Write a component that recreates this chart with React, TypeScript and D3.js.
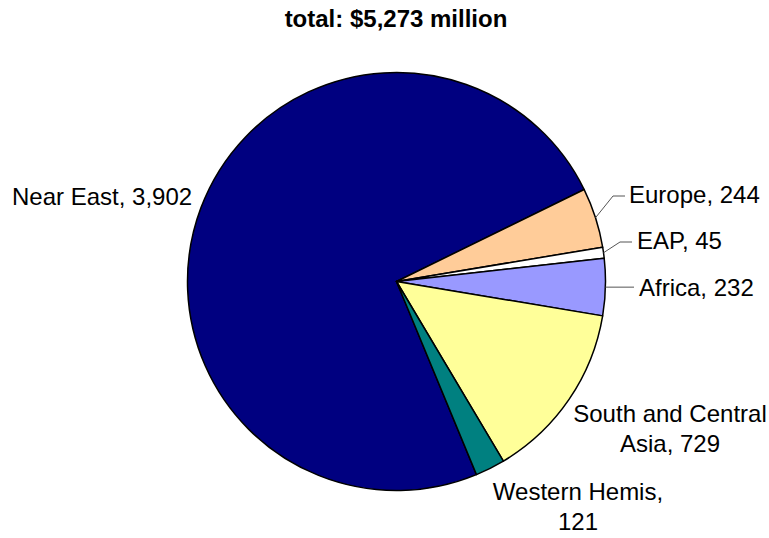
import React from "react";
import * as d3 from "d3";

const regions = ["Near East", "Europe", "EAP", "Africa", "South and Central Asia", "Western Hemis"];
const values = [3902, 244, 45, 232, 729, 121];
const colors = ["#000080", "#FFCC99", "#FFFFFF", "#9999FF", "#FFFF99", "#008080"];
const labelLines = [
  ["Near East, 3,902"],
  ["Europe, 244"],
  ["EAP, 45"],
  ["Africa, 232"],
  ["South and Central", "Asia, 729"],
  ["Western Hemis,", "121"],
];
const titleText = "total: $5,273 million";

const W = 769;
const H = 538;
const cx = 396.5;
const cy = 281.5;
const R = 209;
const START_DEG = 157.5;

// label layout: anchor point x,y (first baseline), text-anchor, leader elbow
const labelLayout = [
  { x: 12, y: 205, anchor: "start", leader: null },
  { x: 629, y: 203, anchor: "start", leader: { ex: 613, ey: 196, hx: 625 } },
  { x: 637, y: 249, anchor: "start", leader: { ex: 620, ey: 242, hx: 632 } },
  { x: 639, y: 296, anchor: "start", leader: { ex: 620, ey: 288, hx: 634, flat: true } },
  { x: 670, y: 422, anchor: "middle", leader: null },
  { x: 578, y: 500, anchor: "middle", leader: null },
];

export default function App() {
  const data = regions.map((r, i) => ({ region: r, value: values[i], color: colors[i] }));
  const start = (START_DEG * Math.PI) / 180;
  const pie = d3
    .pie<any>()
    .value((d) => d.value)
    .sort(null)
    .startAngle(start)
    .endAngle(start + 2 * Math.PI);
  const arcs = pie(data);
  const arc = d3.arc<any>().innerRadius(0).outerRadius(R);
  const font = "'Liberation Sans', Arial, sans-serif";

  return (
    <svg width={W} height={H} style={{ display: "block", position: "absolute", left: 0, top: 0 }}>
      <rect width={W} height={H} fill="#fff" />
      <text x={396} y={27} textAnchor="middle" fontFamily={font} fontWeight="bold" fontSize={24} fill="#000">
        {titleText}
      </text>
      <g transform={`translate(${cx},${cy})`}>
        {arcs.map((a, i) => (
          <path key={i} d={arc(a) as string} fill={a.data.color} stroke="#000" strokeWidth={1.5} strokeLinejoin="round" />
        ))}
      </g>
      {arcs.map((a, i) => {
        const L = labelLayout[i];
        if (!L.leader) return null;
        const mid = (a.startAngle + a.endAngle) / 2;
        const px = cx + R * Math.sin(mid);
        const py = cy - R * Math.cos(mid);
        const pts = L.leader.flat
          ? [[px, py], [L.leader.hx, py]]
          : [[px, py], [L.leader.ex, L.leader.ey], [L.leader.hx, L.leader.ey]];
        const line = d3.line()(pts as [number, number][]);
        return <path key={"l" + i} d={line as string} fill="none" stroke="#555" strokeWidth={1} />;
      })}
      {labelLines.map((lines, i) => {
        const L = labelLayout[i];
        return (
          <text key={"t" + i} x={L.x} y={L.y} textAnchor={L.anchor} fontFamily={font} fontSize={24} fill="#000">
            {lines.map((ln, j) => (
              <tspan key={j} x={L.x} dy={j === 0 ? 0 : 30}>
                {ln}
              </tspan>
            ))}
          </text>
        );
      })}
    </svg>
  );
}
